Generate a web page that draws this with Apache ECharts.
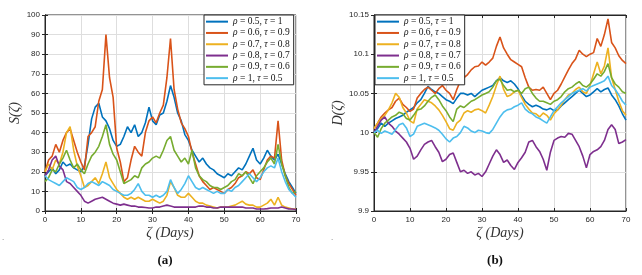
<!DOCTYPE html>
<html><head><meta charset="utf-8">
<script src="https://cdn.jsdelivr.net/npm/echarts@6/dist/echarts.min.js"></script>
<style>html,body{margin:0;padding:0;background:#fff}#c{width:642px;height:275px}</style>
</head><body><div id="c"></div>
<script>
const days=[0,1,2,3,4,5,6,7,8,9,10,11,12,13,14,15,16,17,18,19,20,21,22,23,24,25,26,27,28,29,30,31,32,33,34,35,36,37,38,39,40,41,42,43,44,45,46,47,48,49,50,51,52,53,54,55,56,57,58,59,60,61,62,63,64,65,66,67,68,69,70];
const seriesNames=['ρ = 0.5, τ = 1','ρ = 0.6, τ = 0.9','ρ = 0.7, τ = 0.8','ρ = 0.8, τ = 0.7','ρ = 0.9, τ = 0.6','ρ = 1, τ = 0.5'];
const xTicksA=[0,10,20,30,40,50,60,70];
const yTicksA=[0,10,20,30,40,50,60,70,80,90,100];
const yTicksB=[9.9,9.95,10,10.05,10.1,10.15];

// Panel (a): S(ζ)
const aBlue=[18,20,22,19,21,25,23,24,22,21,20,23,34,47,53,55,48,46,42,36,33,34,38,43,40,44,38,40,45,53,46,44,49,50,56,64,58,50,46,39,36,31,28,25,27,24,22,21,19,18,17,19,18,20,22,21,24,28,32,26,24,27,31,28,26,29,24,19,15,12,9];
const aRed=[20,26,28,34,30,36,40,42,36,30,25,21,38,40,43,56,62,90,68,58,32,25,15,17,26,33,30,28,40,46,48,45,50,54,68,88,62,52,45,42,38,30,24,18,15,13,11,12,11,10,9,11,12,14,17,18,20,19,21,17,16,21,26,28,27,46,26,18,14,11,8];
const aYellow=[20,24,21,26,24,30,40,43,31,23,18,12,13,15,17,14,19,25,17,14,11,9,7,6,7,6,7,6,5,5,6,5,4,5,8,15,12,8,7,7,9,7,5,4,4,3,2.5,2,1.5,2,2,2,2.5,3,4,5,3.5,3,3,2,2,3,4,6,3,7,3,2,1.5,1,1];
const aPurple=[18,21,26,28,23,21,15,14,12,10,8,5,4,5,6,6.5,7,6,5,4,3.5,3,3.5,3,2.5,2.5,2,2,1.8,1.5,1.5,2,2,2.5,3,2.5,2,2,2,2,2,2,2,2.5,2.5,2,2,1.5,1.5,2,2,2,2,2,2,2,1.5,1.5,1.5,1,1,1,1.2,1.5,1.5,1.5,2,1.5,1,1,0.8];
const aGreen=[15,17,21,20,24,27,31,26,22,24,21,19,24,28,30,33,38,44,34,29,26,20,14,15,16,18,17,22,24,25,27,28,27,31,36,38,31,28,25,27,24,31,22,18,16,15,13,12,12,11,12,13,15,16,19,18,20,17,14,18,20,22,25,27,24,34,24,18,12,9,10];
const aLight=[18,16,15,14,13,15,17,16,15,12,11,12,14,15,14,13,15,14,13,11,10,9,8,8,9,11,14,10,8,8,7,8,7,8,10,16,12,9,11,14,18,15,12,11,12,11,10,9,10,9,9,11,10,12,13,15,17,19,17,15,17,20,22,23,22,27,20,15,11,9,7];

// Panel (b): D(ζ)
const bBlue=[10.0,10.005,10.012,10.008,10.012,10.015,10.018,10.02,10.022,10.026,10.029,10.032,10.038,10.042,10.05,10.059,10.055,10.052,10.05,10.046,10.042,10.04,10.037,10.044,10.05,10.05,10.048,10.05,10.046,10.05,10.054,10.056,10.058,10.06,10.066,10.07,10.066,10.064,10.066,10.062,10.056,10.047,10.04,10.036,10.033,10.035,10.033,10.03,10.029,10.031,10.028,10.029,10.034,10.038,10.042,10.046,10.05,10.054,10.05,10.046,10.048,10.052,10.056,10.052,10.055,10.057,10.048,10.042,10.034,10.024,10.016];
const bRed=[10.005,10.012,10.02,10.025,10.029,10.032,10.04,10.044,10.036,10.032,10.027,10.03,10.044,10.05,10.055,10.058,10.054,10.05,10.056,10.06,10.054,10.05,10.042,10.055,10.066,10.07,10.074,10.08,10.084,10.085,10.09,10.086,10.09,10.095,10.11,10.122,10.108,10.1,10.093,10.09,10.087,10.084,10.07,10.058,10.054,10.055,10.054,10.058,10.05,10.042,10.05,10.054,10.062,10.071,10.08,10.088,10.094,10.105,10.1,10.097,10.1,10.102,10.12,10.11,10.125,10.145,10.115,10.108,10.098,10.092,10.088];
const bYellow=[10.005,10.012,10.018,10.022,10.029,10.038,10.05,10.045,10.032,10.025,10.015,10.012,10.03,10.036,10.042,10.04,10.038,10.034,10.029,10.022,10.014,10.005,10.003,10.012,10.016,10.025,10.028,10.026,10.029,10.03,10.028,10.025,10.035,10.046,10.06,10.072,10.055,10.046,10.048,10.052,10.054,10.045,10.036,10.03,10.025,10.024,10.02,10.025,10.022,10.016,10.024,10.029,10.035,10.042,10.048,10.05,10.055,10.058,10.052,10.05,10.06,10.075,10.09,10.075,10.085,10.108,10.07,10.055,10.04,10.028,10.022];
const bPurple=[10.0,10.008,10.016,10.02,10.012,10.008,10.002,9.998,9.993,9.988,9.98,9.966,9.97,9.978,9.985,9.988,9.99,9.982,9.975,9.963,9.966,9.972,9.974,9.962,9.95,9.952,9.948,9.95,9.946,9.948,9.944,9.95,9.96,9.97,9.978,9.972,9.962,9.965,9.958,9.953,9.962,9.968,9.975,9.988,9.99,9.982,9.976,9.966,9.952,9.975,9.99,9.993,9.995,9.994,9.999,9.998,9.99,9.982,9.97,9.955,9.972,9.976,9.978,9.982,9.99,10.004,10.01,10.004,9.986,9.988,9.991];
const bGreen=[10.0,9.994,10.005,10.012,10.016,10.02,10.022,10.026,10.024,10.018,10.016,10.022,10.029,10.03,10.034,10.04,10.045,10.048,10.042,10.034,10.028,10.02,10.014,10.03,10.034,10.032,10.036,10.04,10.042,10.045,10.048,10.05,10.052,10.058,10.066,10.068,10.06,10.054,10.055,10.052,10.054,10.05,10.056,10.058,10.05,10.044,10.04,10.04,10.038,10.036,10.04,10.042,10.046,10.052,10.056,10.058,10.062,10.065,10.06,10.058,10.062,10.068,10.075,10.072,10.078,10.088,10.07,10.062,10.058,10.052,10.05];
const bLight=[10.0,10.003,9.999,10.002,10.0,9.998,10.004,10.01,10.012,10.006,9.995,9.998,10.008,10.01,10.012,10.01,10.008,10.006,10.003,9.998,9.992,9.988,9.993,9.995,10.0,10.008,10.006,10.002,10.0,10.003,10.002,10.0,9.999,10.004,10.012,10.02,10.026,10.029,10.03,10.033,10.035,10.038,10.03,10.026,10.024,10.02,10.018,10.015,10.012,10.02,10.028,10.033,10.038,10.042,10.046,10.05,10.052,10.054,10.056,10.053,10.058,10.06,10.062,10.064,10.066,10.072,10.06,10.055,10.048,10.04,10.035];

const colors=['#0072BD','#D95319','#EDB120','#7E2F8E','#77AC30','#4DBEEE'];
const aData=[aBlue,aRed,aYellow,aPurple,aGreen,aLight];
const bData=[bBlue,bRed,bYellow,bPurple,bGreen,bLight];

const axCol='#262626', gridCol='#dedede';
const lblFont={fontFamily:'Liberation Sans',fontSize:8,color:axCol};
function xAx(gi,pos,show){return {type:'value',gridIndex:gi,position:pos,min:0,max:70,interval:10,
  axisLine:{show:true,lineStyle:{color:axCol,width:1}},axisTick:{show:true,inside:true,length:3,lineStyle:{color:axCol}},
  axisLabel:Object.assign({show:show,margin:5},lblFont),splitLine:{show:show,lineStyle:{color:gridCol,width:1}}};}
function yAx(gi,pos,show,min,max,iv,fmt){return {type:'value',gridIndex:gi,position:pos,min:min,max:max,interval:iv,
  axisLine:{show:true,lineStyle:{color:axCol,width:1}},axisTick:{show:true,inside:true,length:3,lineStyle:{color:axCol}},
  axisLabel:Object.assign({show:show,margin:5,formatter:fmt},lblFont),splitLine:{show:show,lineStyle:{color:gridCol,width:1}}};}
const fmtB=v=>String(parseFloat(v.toFixed(2)));

const series=[];
aData.forEach((arr,i)=>series.push({name:seriesNames[i],type:'line',xAxisIndex:0,yAxisIndex:0,showSymbol:false,symbol:'none',
  data:days.map((d,k)=>[d,arr[k]]),lineStyle:{color:colors[i],width:1.6},itemStyle:{color:colors[i]}}));
bData.forEach((arr,i)=>series.push({name:seriesNames[i],type:'line',xAxisIndex:2,yAxisIndex:2,showSymbol:false,symbol:'none',
  data:days.map((d,k)=>[d,arr[k]]),lineStyle:{color:colors[i],width:1.6},itemStyle:{color:colors[i]}}));

const legendCommon={orient:'vertical',icon:'rect',itemWidth:22,itemHeight:2,itemGap:0,padding:[1,4,1,2],
  backgroundColor:'#fff',borderColor:axCol,borderWidth:1,borderRadius:0,data:seriesNames,
  formatter:n=>n.replace('ρ','{i|ρ}').replace('τ','{i|τ}'),
  textStyle:{fontFamily:'Liberation Serif',fontSize:9.5,lineHeight:11.3,color:'#111',
    rich:{i:{fontFamily:'Liberation Serif',fontStyle:'italic',fontSize:9.5,lineHeight:11.3,color:'#111'}}}};

const chart=echarts.init(document.getElementById('c'),null,{renderer:'canvas'});
chart.setOption({
  animation:false,backgroundColor:'#fff',
  grid:[{left:45,top:15,width:251,height:196,show:true,borderColor:axCol,borderWidth:1,backgroundColor:'#fff'},
        {left:374,top:15,width:252,height:196,show:true,borderColor:axCol,borderWidth:1,backgroundColor:'#fff'}],
  xAxis:[xAx(0,'bottom',true),xAx(0,'top',false),xAx(1,'bottom',true),xAx(1,'top',false)],
  yAxis:[yAx(0,'left',true,0,100,10),yAx(0,'right',false,0,100,10),
         yAx(1,'left',true,9.9,10.15,0.05,fmtB),yAx(1,'right',false,9.9,10.15,0.05,fmtB)],
  legend:[Object.assign({left:204,top:15},legendCommon),Object.assign({left:375,top:15},legendCommon)],
  series:series,
  graphic:[
    {type:'text',x:170,y:233,style:{text:'ζ (Days)',fontFamily:'Liberation Serif',fontStyle:'italic',fontSize:14,fill:'#333',align:'center',verticalAlign:'middle'}},
    {type:'text',x:500,y:233,style:{text:'ζ (Days)',fontFamily:'Liberation Serif',fontStyle:'italic',fontSize:14,fill:'#333',align:'center',verticalAlign:'middle'}},
    {type:'text',x:15,y:113,rotation:Math.PI/2,style:{text:'S(ζ)',fontFamily:'Liberation Serif',fontStyle:'italic',fontSize:14,fill:'#333',align:'center',verticalAlign:'middle'}},
    {type:'text',x:338,y:113,rotation:Math.PI/2,style:{text:'D(ζ)',fontFamily:'Liberation Serif',fontStyle:'italic',fontSize:14,fill:'#333',align:'center',verticalAlign:'middle'}},
    {type:'text',x:165,y:261,style:{text:'(a)',fontFamily:'Liberation Serif',fontWeight:'bold',fontSize:13,fill:'#111',align:'center',verticalAlign:'middle'}},
    {type:'text',x:495,y:261,style:{text:'(b)',fontFamily:'Liberation Serif',fontWeight:'bold',fontSize:13,fill:'#111',align:'center',verticalAlign:'middle'}},
    {type:'text',x:3,y:238,style:{text:'.',fontFamily:'Liberation Sans',fontSize:8,fill:'#666',align:'center',verticalAlign:'middle'}},
    {type:'text',x:332,y:238,style:{text:'.',fontFamily:'Liberation Sans',fontSize:8,fill:'#666',align:'center',verticalAlign:'middle'}}
  ]
});
</script></body></html>
